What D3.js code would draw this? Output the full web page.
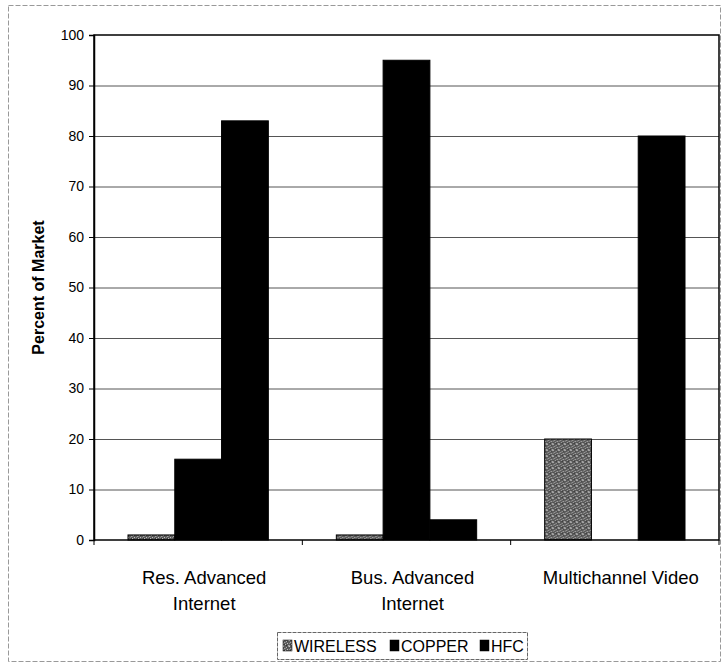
<!DOCTYPE html>
<html>
<head>
<meta charset="utf-8">
<script src="https://cdn.jsdelivr.net/npm/d3@7/dist/d3.min.js"></script>
<style>
html,body{margin:0;padding:0;background:#fff;}
svg{display:block;}
text{font-family:Arial,"Liberation Sans",sans-serif;fill:#000;}
</style>
</head>
<body>
<svg id="chart" width="722" height="662"></svg>
<script>
const categories = [["Res. Advanced","Internet"],["Bus. Advanced","Internet"],["Multichannel Video"]];
const seriesNames = ["WIRELESS","COPPER","HFC"];
const wireless = [1, 1, 20];
const copper = [16, 95, 0];
const hfc = [83, 4, 80];
const yTicks = [0,10,20,30,40,50,60,70,80,90,100];

const seriesValues = [wireless, copper, hfc];
const fills = ["url(#speckle)", "#000", "#000"];

const svg = d3.select("#chart");
const W = 722, H = 662;
const m = {left: 94, right: 3, top: 35, bottom: 122};
const x0 = d3.scaleBand().domain(d3.range(categories.length)).range([m.left, W - m.right]).paddingInner(0).paddingOuter(0);
const x1 = d3.scaleBand().domain(d3.range(seriesNames.length)).range([34, x0.bandwidth() - 34]);
const y = d3.scaleLinear().domain([0, 100]).range([H - m.bottom, m.top]);

// pattern for wireless (mottled gray halftone)
const defs = svg.append("defs");
const pat = defs.append("pattern").attr("id","speckle").attr("patternUnits","userSpaceOnUse").attr("width",6).attr("height",6);
pat.append("rect").attr("width",6).attr("height",6).attr("fill","#5a5a5a");
const speck = [[0,0,"#c8c8c8"],[3,1,"#b0b0b0"],[5,0,"#909090"],[1,2,"#a0a0a0"],[4,3,"#c0c0c0"],[2,4,"#b8b8b8"],
  [0,5,"#999"],[5,5,"#aaa"],[3,5,"#333"],[1,4,"#3a3a3a"],[4,1,"#444"],[2,2,"#7a7a7a"],[0,3,"#888"]];
speck.forEach(p => {
  pat.append("rect").attr("x",p[0]).attr("y",p[1]).attr("width",1).attr("height",1).attr("fill",p[2]);
});

// outer border
svg.append("rect").attr("x",8.5).attr("y",5.5).attr("width",712).attr("height",656)
  .attr("fill","none").attr("stroke","#999").attr("stroke-width",1).attr("stroke-dasharray","5,2");

// gridlines
svg.append("g").selectAll("line").data(yTicks.filter(d => d > 0 && d < 100)).join("line")
  .attr("x1", m.left).attr("x2", W - m.right)
  .attr("y1", d => y(d) + 0.5).attr("y2", d => y(d) + 0.5)
  .attr("stroke","#555").attr("stroke-width",1);

// bars
const groups = svg.append("g").selectAll("g").data(categories).join("g")
  .attr("transform", (d, i) => `translate(${x0(i)},0)`);
groups.selectAll("rect").data((d, i) => seriesValues.map((s, k) => ({k, v: s[i]}))).join("rect")
  .attr("x", d => x1(d.k)).attr("width", x1.bandwidth())
  .attr("y", d => y(d.v)).attr("height", d => y(0) - y(d.v))
  .attr("fill", d => fills[d.k]).attr("stroke", d => d.v > 0 ? "#000" : "none").attr("stroke-width", 1);

// plot frame
svg.append("rect").attr("x", m.left).attr("y", m.top).attr("width", W - m.right - m.left).attr("height", y(0) - m.top)
  .attr("fill","none").attr("stroke","#000").attr("stroke-width",1.5);

// y axis
const yAxis = svg.append("g").attr("transform", `translate(${m.left},0)`)
  .call(d3.axisLeft(y).tickValues(yTicks).tickSize(5).tickPadding(5).tickFormat(d3.format("d")));
yAxis.select(".domain").attr("stroke","#000").attr("stroke-width",1.5);
yAxis.selectAll(".tick line").attr("stroke","#000");
yAxis.selectAll("text").style("font-size","14px").style("font-family","Arial, 'Liberation Sans', sans-serif").attr("fill","#000");

// x axis ticks at group boundaries
svg.append("g").selectAll("line").data(d3.range(categories.length + 1)).join("line")
  .attr("x1", i => m.left + i * x0.bandwidth()).attr("x2", i => m.left + i * x0.bandwidth())
  .attr("y1", y(0)).attr("y2", y(0) + 5).attr("stroke","#000").attr("stroke-width",1);

// category labels
const cl = svg.append("g").selectAll("text").data(categories).join("text")
  .attr("x", (d, i) => x0(i) + x0.bandwidth() / 2 + 6).attr("y", 584)
  .attr("text-anchor","middle").style("font-size","18.5px");
cl.selectAll("tspan").data(d => d).join("tspan")
  .attr("x", function(){ return this.parentNode.getAttribute("x"); })
  .attr("dy", (d, j) => j === 0 ? 0 : 26).text(d => d);

// y axis title
svg.append("text").attr("transform", `translate(44,${(m.top + y(0)) / 2}) rotate(-90)`)
  .attr("text-anchor","middle").style("font-size","16px").style("font-weight","bold").text("Percent of Market");

// legend
const lg = svg.append("g");
lg.append("rect").attr("x",277.5).attr("y",632.5).attr("width",250).attr("height",27)
  .attr("fill","#fff").attr("stroke","#666").attr("stroke-dasharray","4,1");
const li = lg.selectAll("g.item").data(seriesNames).join("g").attr("class","item")
  .attr("transform", (d, i) => `translate(${[283, 390, 480][i]},640)`);
li.append("rect").attr("width",9).attr("height",11).attr("fill",(d,i)=>fills[i]).attr("stroke","#000").attr("stroke-width",0.5);
li.append("text").attr("x",11).attr("y",12).style("font-size","16px").text(d => d);
</script>
</body>
</html>
